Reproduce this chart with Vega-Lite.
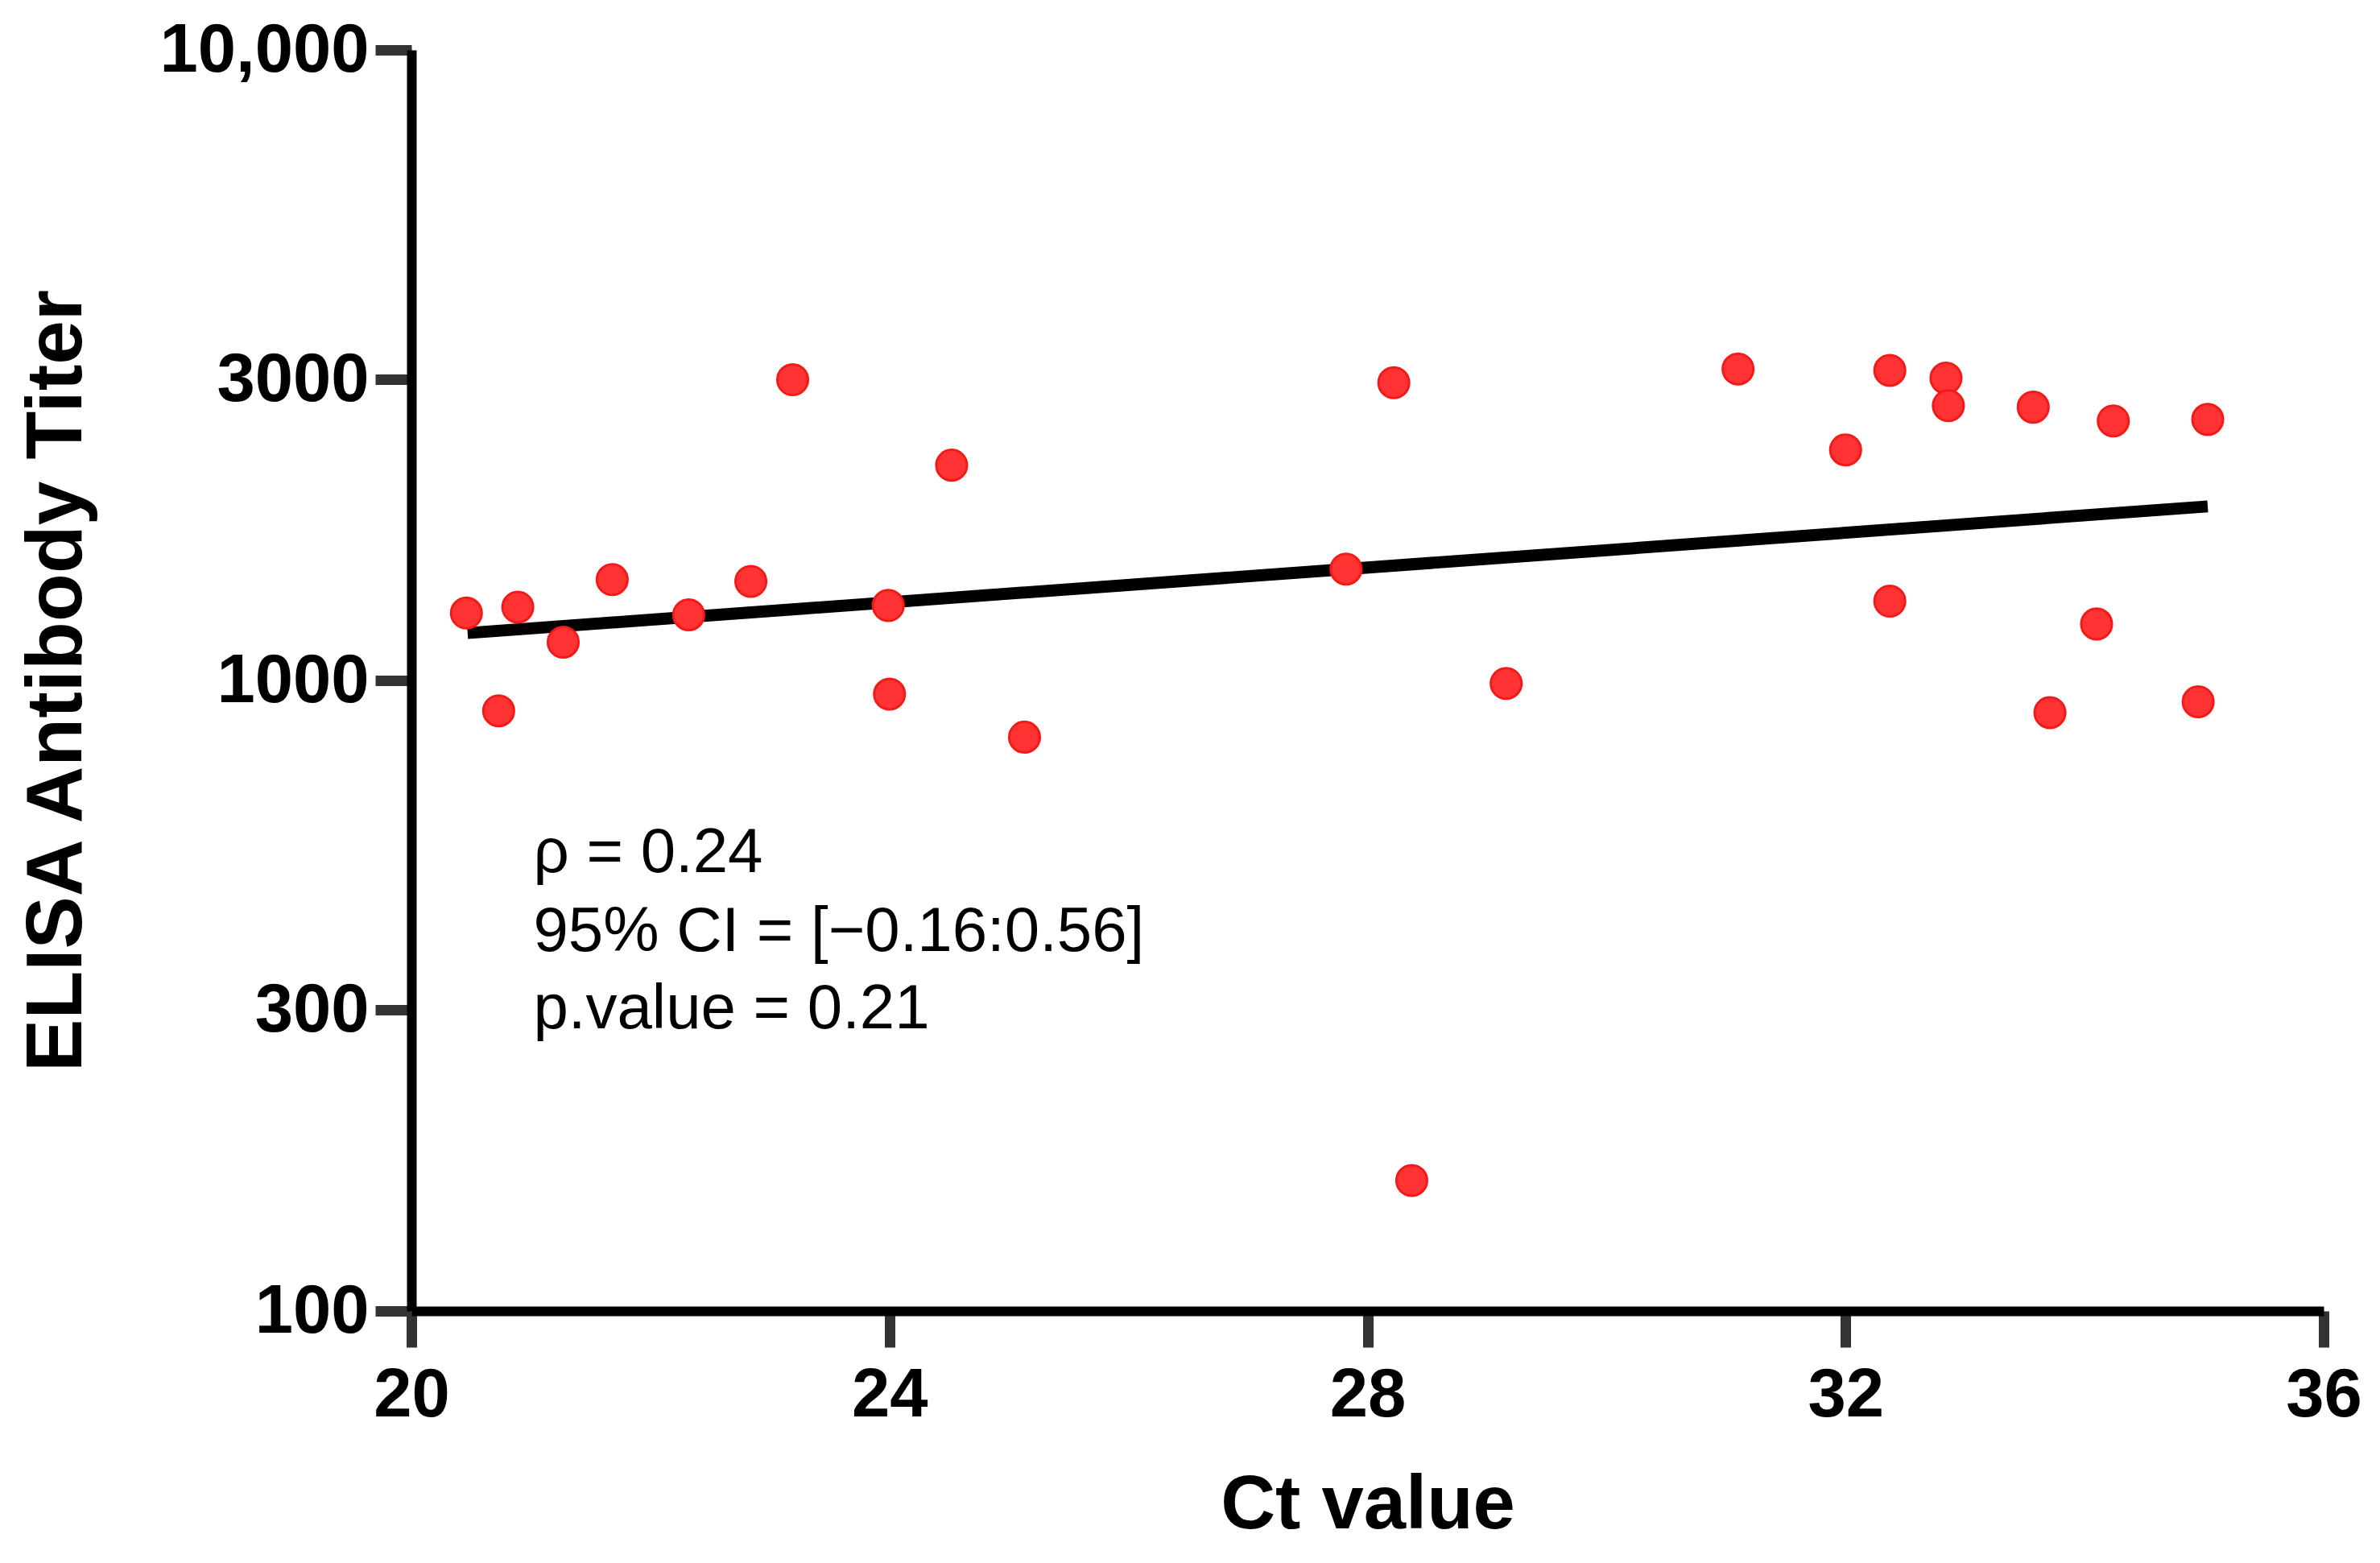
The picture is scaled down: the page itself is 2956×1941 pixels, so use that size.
{
  "$schema": "https://vega.github.io/schema/vega-lite/v6.json",
  "width": 2375,
  "height": 1566,
  "autosize": "none",
  "padding": {"left": 511, "top": 62, "right": 70, "bottom": 313},
  "background": "white",
  "config": {
    "view": {"stroke": null},
    "font": "Liberation Sans"
  },
  "datasets": {
    "points": [
      {"ct": 20.46, "titer": 1279},
      {"ct": 20.73, "titer": 895},
      {"ct": 20.89, "titer": 1307},
      {"ct": 21.27, "titer": 1150},
      {"ct": 21.68, "titer": 1445},
      {"ct": 22.32, "titer": 1271},
      {"ct": 22.84, "titer": 1436},
      {"ct": 23.19, "titer": 2999},
      {"ct": 23.99, "titer": 1315},
      {"ct": 24.0, "titer": 951},
      {"ct": 24.52, "titer": 2195},
      {"ct": 25.13, "titer": 813},
      {"ct": 27.82, "titer": 1502},
      {"ct": 28.22, "titer": 2966},
      {"ct": 28.37, "titer": 161},
      {"ct": 29.16, "titer": 989},
      {"ct": 31.1, "titer": 3118},
      {"ct": 32.0, "titer": 2321},
      {"ct": 32.37, "titer": 3103},
      {"ct": 32.37, "titer": 1336},
      {"ct": 32.84, "titer": 3016},
      {"ct": 32.86, "titer": 2728},
      {"ct": 33.57, "titer": 2713},
      {"ct": 33.71, "titer": 889},
      {"ct": 34.1, "titer": 1229},
      {"ct": 34.24, "titer": 2580},
      {"ct": 34.95, "titer": 925},
      {"ct": 35.03, "titer": 2594}
    ],
    "fit": [
      {"ct": 20.47, "titer": 1189},
      {"ct": 35.03, "titer": 1888}
    ],
    "notes": [
      {"ct": 21.02, "titer": 497, "label": "ρ = 0.24"},
      {"ct": 21.02, "titer": 372, "label": "95% CI = [−0.16:0.56]"},
      {"ct": 21.02, "titer": 281, "label": "p.value = 0.21"}
    ]
  },
  "encoding": {
    "x": {
      "field": "ct",
      "type": "quantitative",
      "scale": {"domain": [20, 36], "nice": false, "zero": false},
      "axis": {
        "title": "Ct value",
        "values": [20, 24, 28, 32, 36],
        "grid": false,
        "domainColor": "black",
        "domainWidth": 12,
        "tickColor": "#333333",
        "tickWidth": 13,
        "tickSize": 45,
        "labelFont": "Liberation Sans",
        "labelFontWeight": "bold",
        "labelFontSize": 85,
        "labelColor": "black",
        "labelPadding": 18,
        "labelFlush": false,
        "labelLimit": 0,
        "titleFont": "Liberation Sans",
        "titleFontWeight": "bold",
        "titleFontSize": 94,
        "titleColor": "black",
        "titlePadding": 48
      }
    },
    "y": {
      "field": "titer",
      "type": "quantitative",
      "scale": {"type": "log", "domain": [100, 10000], "nice": false},
      "axis": {
        "title": "ELISA Antibody Titer",
        "values": [100, 300, 1000, 3000, 10000],
        "labelExpr": "datum.value == 10000 ? '10,000' : format(datum.value, 'd')",
        "grid": false,
        "domainColor": "black",
        "domainWidth": 12,
        "tickColor": "#333333",
        "tickWidth": 13,
        "tickSize": 45,
        "labelFont": "Liberation Sans",
        "labelFontWeight": "bold",
        "labelFontSize": 85,
        "labelColor": "black",
        "labelPadding": 8,
        "labelFlush": false,
        "labelLimit": 0,
        "titleFont": "Liberation Sans",
        "titleFontWeight": "bold",
        "titleFontSize": 98,
        "titleColor": "black",
        "titlePadding": 190
      }
    }
  },
  "layer": [
    {
      "data": {"name": "fit"},
      "mark": {"type": "line", "color": "black", "strokeWidth": 15, "strokeCap": "butt"},
      "encoding": {}
    },
    {
      "data": {"name": "points"},
      "mark": {"type": "circle", "size": 1450, "fill": "#ff3333", "stroke": "#f51a1a", "strokeWidth": 3, "opacity": 1, "fillOpacity": 1}
    },
    {
      "data": {"name": "notes"},
      "mark": {"type": "text", "align": "left", "baseline": "alphabetic", "font": "Liberation Sans", "fontSize": 78, "color": "black"},
      "encoding": {"text": {"field": "label"}}
    }
  ]
}
